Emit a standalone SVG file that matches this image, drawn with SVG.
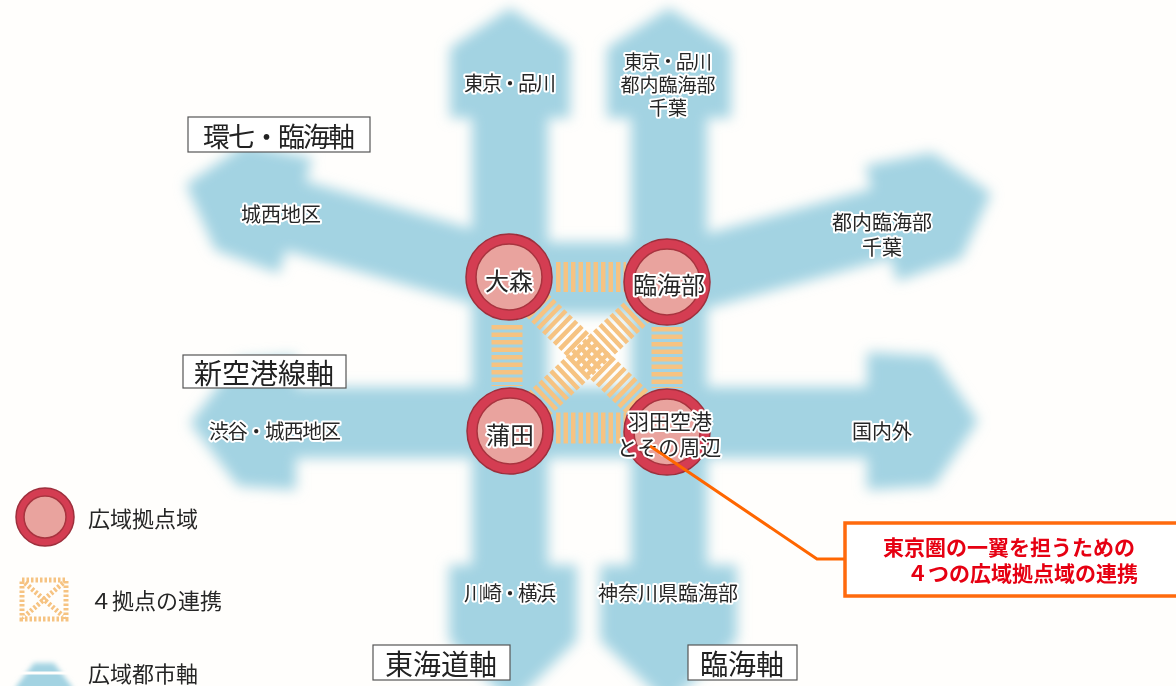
<svg xmlns="http://www.w3.org/2000/svg" width="1176" height="686" viewBox="0 0 1176 686">
<style>
.lbl{font-family:"Noto Sans CJK JP","Noto Sans",sans-serif;fill:#262626;stroke:#ffffff;stroke-width:4;stroke-linejoin:round;paint-order:stroke;text-anchor:middle;dominant-baseline:central}
.node{font-size:24px}
.small{font-size:20px}
.axis{font-family:"Noto Sans CJK JP","Noto Sans",sans-serif;fill:#222;font-size:28px;text-anchor:middle;dominant-baseline:central}
.box{fill:#ffffff;stroke:#555;stroke-width:1.2}
.leg{font-family:"Noto Sans CJK JP","Noto Sans",sans-serif;fill:#262626;font-size:22px;dominant-baseline:central}
.call{font-family:"Noto Sans CJK JP","Noto Sans",sans-serif;fill:#e60012;font-size:21px;font-weight:bold}
.blue{fill:#a3d3e2}
.hatch{stroke:#f6c382;fill:none;stroke-dasharray:4.5 3}
.ring{fill:#d43d52;stroke:#9e2f3c;stroke-width:1.5}
.core{fill:#e9a39e;stroke:#a8343f;stroke-width:1.5}
</style>
<defs>
<filter id="soft" x="-10%" y="-10%" width="120%" height="120%"><feGaussianBlur stdDeviation="6.5"/></filter>
<filter id="soft2" x="-20%" y="-20%" width="140%" height="140%"><feGaussianBlur stdDeviation="2.5"/></filter>
<g id="diagArrow">
<rect x="-10" y="-36" width="236" height="72"/>
<polygon points="222,-60 290,-55 336,0 290,55 222,60"/>
</g>
</defs>
<rect width="1176" height="686" fill="#fffefc"/>

<g id="axes" class="blue" filter="url(#soft)">
<rect x="472" y="100" width="76" height="480"/>
<rect x="631" y="100" width="76" height="480"/>
<polygon points="450,118 450,48 510,8 570,48 570,118"/>
<polygon points="607,118 607,48 669,8 731,48 731,118"/>
<polygon points="449,565 577,565 577,640 512,705 449,640"/>
<polygon points="600,565 737,565 737,640 668,705 600,640"/>
<rect x="505" y="242" width="166" height="72"/>
<use href="#diagArrow" transform="translate(509,277) rotate(196)"/>
<use href="#diagArrow" transform="translate(667,282) rotate(-15.3)"/>
<rect x="250" y="387" width="622" height="71"/>
<polygon points="867,352 934,356 978,421 934,486 867,490"/>
<polygon points="296,356 238,360 190,423 238,486 296,490"/>
</g>

<g id="links" class="hatch">
<line x1="556" y1="277" x2="626" y2="277" stroke-width="30"/>
<line x1="556" y1="428" x2="626" y2="428" stroke-width="31"/>
<line x1="507" y1="325" x2="507" y2="386" stroke-width="31"/>
<line x1="667" y1="327" x2="667" y2="388" stroke-width="31"/>
<line x1="537" y1="305" x2="640" y2="405" stroke-width="32"/>
<line x1="640" y1="309" x2="538" y2="405" stroke-width="32"/>
</g>

<g id="node-omori">
<circle class="ring" cx="509" cy="277" r="43"/>
<circle class="core" cx="509" cy="277" r="33"/>
<text class="lbl node" x="509" y="279">大森</text>
</g>
<g id="node-rinkaibu">
<circle class="ring" cx="667" cy="282" r="43"/>
<circle class="core" cx="667" cy="282" r="33"/>
<text class="lbl node" x="669" y="283">臨海部</text>
</g>
<g id="node-kamata">
<circle class="ring" cx="510" cy="431" r="43"/>
<circle class="core" cx="510" cy="431" r="33"/>
<text class="lbl node" x="510" y="433">蒲田</text>
</g>
<g id="node-haneda">
<circle class="ring" cx="667" cy="432" r="43"/>
<circle class="core" cx="667" cy="432" r="33"/>
<text class="lbl" x="670" y="420" style="font-size:21px">羽田空港</text>
<text class="lbl" x="669" y="446" style="font-size:21px">とその周辺</text>
</g>

<g id="axis-labels">
<rect class="box" x="188" y="117" width="182" height="35"/>
<text class="axis" x="279" y="135" style="font-size:27px" textLength="152" lengthAdjust="spacing">環七・臨海軸</text>
<rect class="box" x="183" y="355" width="163" height="33"/>
<text class="axis" x="264" y="372">新空港線軸</text>
<rect class="box" x="373" y="645" width="137" height="35"/>
<text class="axis" x="441" y="663">東海道軸</text>
<rect class="box" x="688" y="645" width="109" height="35"/>
<text class="axis" x="742" y="663">臨海軸</text>
</g>

<g id="destinations">
<text class="lbl small" x="510" y="82" textLength="92" lengthAdjust="spacing">東京・品川</text>
<text class="lbl small" x="668" y="60" style="font-size:19px" textLength="88" lengthAdjust="spacing">東京・品川</text>
<text class="lbl small" x="668" y="83" style="font-size:19px">都内臨海部</text>
<text class="lbl small" x="668" y="106" style="font-size:19px">千葉</text>
<text class="lbl small" x="281" y="213">城西地区</text>
<text class="lbl small" x="882" y="221">都内臨海部</text>
<text class="lbl small" x="882" y="246">千葉</text>
<text class="lbl small" x="275" y="430" textLength="132" lengthAdjust="spacing">渋谷・城西地区</text>
<text class="lbl small" x="882" y="430">国内外</text>
<text class="lbl small" x="510" y="592" textLength="92" lengthAdjust="spacing">川崎・横浜</text>
<text class="lbl small" x="668" y="592">神奈川県臨海部</text>
</g>

<g id="legend">
<circle class="ring" cx="45" cy="517" r="29"/>
<circle class="core" cx="45" cy="517" r="21"/>
<text class="leg" x="88" y="517">広域拠点域</text>
<g class="hatch" stroke-width="5" style="stroke-dasharray:2.5 2">
<rect x="22" y="580" width="44" height="39"/>
<line x1="25" y1="583" x2="63" y2="616"/>
<line x1="63" y1="583" x2="25" y2="616"/>
</g>
<text class="leg" x="90" y="599">４拠点の連携</text>
<polygon class="blue" filter="url(#soft2)" points="15,688 34,663 54,663 73,688 54,712 34,712"/>
<line x1="18" y1="673" x2="70" y2="673" stroke="#fffefc" stroke-width="3"/>
<text class="leg" x="88" y="672">広域都市軸</text>
</g>

<g id="connectors">
<polyline points="650,446 817,559 845,559" fill="none" stroke="#ff6600" stroke-width="3"/>
</g>

<g id="callout">
<rect x="845" y="523" width="340" height="73" fill="#ffffff" stroke="#ff6a0d" stroke-width="3.5"/>
<text class="call" x="883" y="555">東京圏の一翼を担うための</text>
<text class="call" x="907" y="581">４つの広域拠点域の連携</text>
</g>
</svg>
